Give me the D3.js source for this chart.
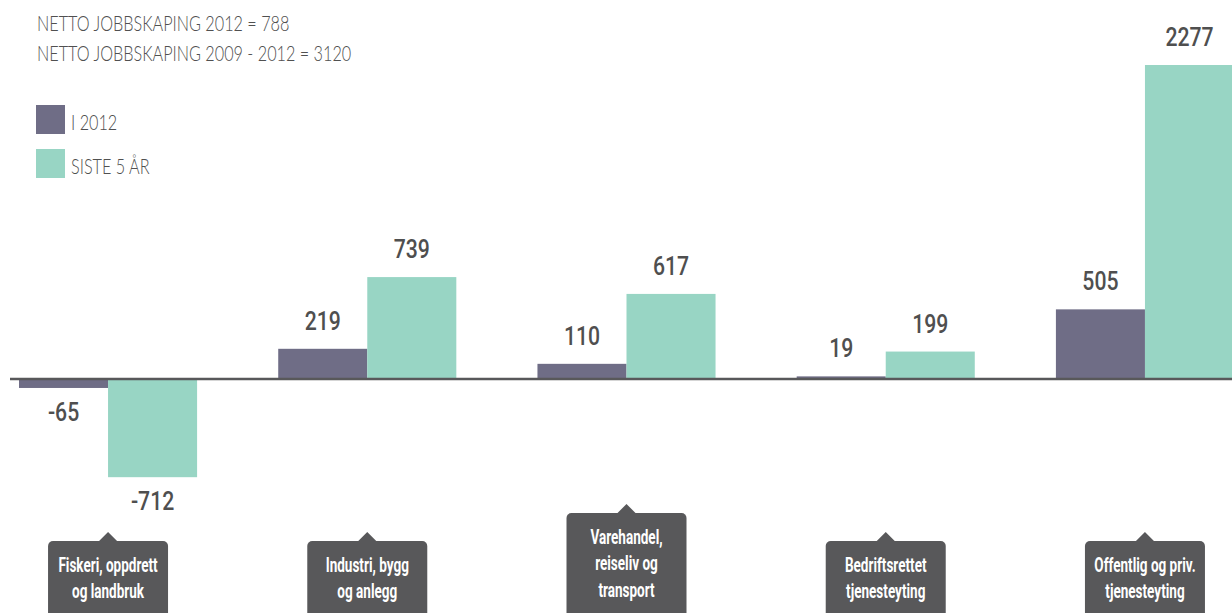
<!DOCTYPE html>
<html><head><meta charset="utf-8">
<script src="https://cdn.jsdelivr.net/npm/d3@7"></script>
<style>
html,body{margin:0;padding:0;background:#fff;overflow:hidden}
svg{display:block}
</style></head>
<body>
<svg id="chart" width="1232" height="613"></svg>
<script>
const categories = ["Fiskeri, oppdrett og landbruk","Industri, bygg og anlegg","Varehandel, reiseliv og transport","Bedriftsrettet tjenesteyting","Offentlig og priv. tjenesteyting"];
const categoryLines = [["Fiskeri, oppdrett","og landbruk"],["Industri, bygg","og anlegg"],["Varehandel,","reiseliv og","transport"],["Bedriftsrettet","tjenesteyting"],["Offentlig og priv.","tjenesteyting"]];
const seriesNames = ["I 2012","SISTE 5 ÅR"];
const values2012 = [-65, 219, 110, 19, 505];
const valuesLast5 = [-712, 739, 617, 199, 2277];
const titleLines = ["NETTO JOBBSKAPING 2012 = 788","NETTO JOBBSKAPING 2009 - 2012 = 3120"];
const colors = ["#6f6d86","#98d5c4"];

const svg = d3.select("#chart");
const x0 = d3.scaleBand().domain(categories).range([19, 1234]).paddingInner(0.313).paddingOuter(0);
const x1 = d3.scaleBand().domain(seriesNames).range([0, x0.bandwidth()]);
const y = d3.scaleLinear().domain([0, 2277]).range([379, 65]);

const data = categories.map((c,i)=>({cat:c, vals:[values2012[i], valuesLast5[i]]}));

const TS = 0.755; // horizontal squeeze for the thin condensed headings
// title
svg.append("g").selectAll("text").data(titleLines).join("text")
  .attr("transform",(d,i)=>`translate(37,${31+i*30}) scale(${TS},1)`)
  .attr("font-family","Lato").attr("font-weight",300).attr("font-size",21.5)
  .attr("fill","#505050").text(d=>d);

// legend
const lg = svg.append("g").selectAll("g").data(seriesNames).join("g")
  .attr("transform",(d,i)=>`translate(36,${105+i*44})`);
lg.append("rect").attr("width",29).attr("height",29).attr("fill",(d,i)=>colors[i]);
lg.append("text").attr("transform",`translate(35,25) scale(${TS},1)`)
  .attr("font-family","Lato").attr("font-weight",300).attr("font-size",21.5)
  .attr("fill","#505050").text(d=>d);

// bars
const groups = svg.append("g").selectAll("g").data(data).join("g")
  .attr("transform", d=>`translate(${x0(d.cat)},0)`);
groups.selectAll("rect").data(d=>d.vals.map((v,i)=>({v, s:seriesNames[i], i}))).join("rect")
  .attr("x", d=>x1(d.s)).attr("width", x1.bandwidth())
  .attr("y", d=>Math.min(y(d.v), y(0))).attr("height", d=>Math.abs(y(d.v)-y(0)))
  .attr("fill", d=>colors[d.i]);
groups.selectAll("text.val").data(d=>d.vals.map((v,i)=>({v, s:seriesNames[i], i}))).join("text")
  .attr("class","val")
  .attr("transform", d=>`translate(${x1(d.s)+x1.bandwidth()/2},${d.v>=0 ? y(d.v)-19 : y(d.v)+33}) scale(0.8,1)`)
  .attr("text-anchor","middle")
  .attr("font-family","Roboto").attr("font-weight",500).attr("font-size",26.5)
  .attr("fill","#4f4f4f").text(d=>d.v);

// baseline
svg.append("line").attr("x1",10).attr("x2",1232).attr("y1",y(0)).attr("y2",y(0))
  .attr("stroke","#58585a").attr("stroke-width",2.5);

// category labels
const cl = svg.append("g").selectAll("g").data(data).join("g")
  .attr("transform", d=>`translate(${x0(d.cat)+x0.bandwidth()/2},0)`);
cl.each(function(d,i){
  const g = d3.select(this);
  const lines = categoryLines[i];
  const top = lines.length===3 ? 513 : 541;
  const w = 120, h = 613-top+10;
  g.append("rect").attr("x",-w/2).attr("y",top).attr("width",w).attr("height",h)
    .attr("rx",5).attr("fill","#58585a");
  g.append("path").attr("d",`M-10,${top+1}L0,${top-9}L10,${top+1}Z`).attr("fill","#58585a");
  g.append("g").attr("transform",`translate(0,${top+31}) scale(0.66,1)`)
    .selectAll("text").data(lines).join("text")
    .attr("x",0).attr("y",(t,j)=>j*26.5).attr("text-anchor","middle")
    .attr("font-family","Roboto").attr("font-weight","bold").attr("font-size",20.5)
    .attr("fill","#fff").text(t=>t);
});
</script>
</body></html>
